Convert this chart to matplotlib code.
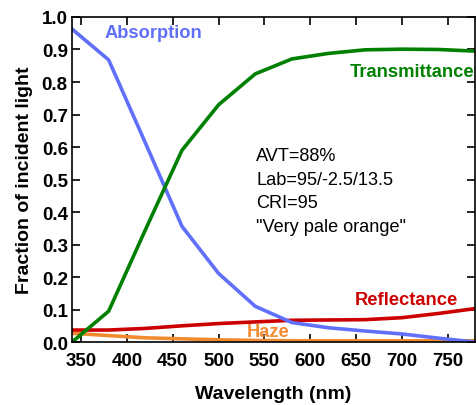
import numpy as np
import matplotlib

matplotlib.use("Agg")
import matplotlib.pyplot as plt
from matplotlib.ticker import MultipleLocator, FormatStrFormatter

plt.rcParams["font.family"] = ["Liberation Sans", "DejaVu Sans"]

# ---------------------------------------------------------------------------
# Data
# ---------------------------------------------------------------------------
wavelength = [340, 380, 420, 460, 500, 540, 580, 620, 660, 700, 740, 780]
transmittance = [0.0, 0.095, 0.345, 0.59, 0.73, 0.825, 0.871, 0.888, 0.899, 0.901, 0.9, 0.895]
reflectance = [0.037, 0.037, 0.042, 0.050, 0.057, 0.062, 0.067, 0.068, 0.069, 0.075, 0.088, 0.103]
absorption = [0.963, 0.868, 0.613, 0.356, 0.211, 0.110, 0.060, 0.044, 0.034, 0.025, 0.012, 0.0]
haze = [0.027, 0.020, 0.013, 0.010, 0.007, 0.005, 0.004, 0.004, 0.004, 0.004, 0.004, 0.004]

ANNOTATION = 'AVT=88%\nLab=95/-2.5/13.5\nCRI=95\n"Very pale orange"'

C_ABS = "#6070fa"
C_TRANS = "#008000"
C_REFL = "#cc0000"
C_HAZE = "#f28a30"

fig = plt.figure(figsize=(4.76, 4.06), dpi=100)
ax = fig.add_axes([0.1513, 0.155, 0.847, 0.8007])

lw = 2.6
ax.plot(wavelength, haze, color=C_HAZE, linewidth=lw)
ax.plot(wavelength, reflectance, color=C_REFL, linewidth=lw)
ax.plot(wavelength, absorption, color=C_ABS, linewidth=lw)
ax.plot(wavelength, transmittance, color=C_TRANS, linewidth=lw)

lbl = dict(fontsize=13.2, fontweight="bold", va="center")
ax.text(429, 0.951, "Absorption", color=C_ABS, ha="center", **lbl)
ax.text(779, 0.832, "Transmittance", color=C_TRANS, ha="right", **lbl)
ax.text(761, 0.132, "Reflectance", color=C_REFL, ha="right", **lbl)
ax.text(554, 0.031, "Haze", color=C_HAZE, ha="center", **lbl)
ax.text(541, 0.60, ANNOTATION, fontsize=13.1, ha="left", va="top",
        linespacing=1.5)

ax.set_xlim(340, 780)
ax.set_ylim(0, 1.0)
ax.xaxis.set_major_locator(MultipleLocator(50))
ax.yaxis.set_major_locator(MultipleLocator(0.1))
ax.yaxis.set_major_formatter(FormatStrFormatter("%.1f"))
ax.tick_params(direction="in", length=6, width=1.2, top=True, right=True,
               labelsize=13.5)
ax.tick_params(axis="y", pad=3)
ax.tick_params(axis="x", pad=7)
for lab in ax.get_xticklabels() + ax.get_yticklabels():
    lab.set_fontweight("bold")
for spine in ax.spines.values():
    spine.set_linewidth(1.2)

ax.set_xlabel("Wavelength (nm)", fontsize=14, fontweight="bold", labelpad=12)
ax.set_ylabel("Fraction of incident light", fontsize=14, fontweight="bold",
              labelpad=6)

fig.savefig("out.png", dpi=100)
